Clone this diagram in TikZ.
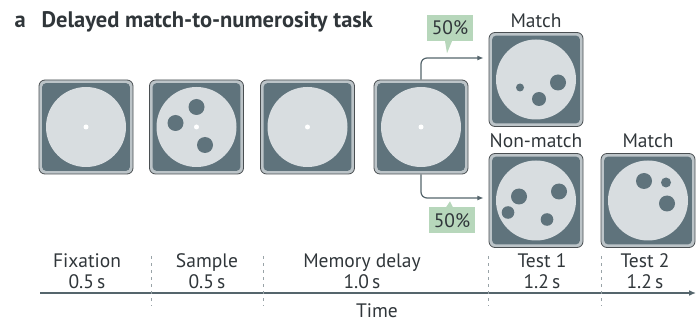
\documentclass[tikz,border=0pt]{standalone}
\usepackage{fontspec}
\setmainfont{PT Sans}
\usetikzlibrary{arrows.meta}
\definecolor{slate}{HTML}{5F737C}
\definecolor{rim}{HTML}{BCC4C8}
\definecolor{edge}{HTML}{4A4F52}
\definecolor{disc}{HTML}{D8DDE0}
\definecolor{pctgreen}{HTML}{B7D7BB}
\definecolor{ink}{HTML}{30363A}
\definecolor{axis}{HTML}{55656C}
\newcommand{\screen}[3]{%
	\node[screen] (#1) at (#2,#3) {};
	\fill[slate, rounded corners=4pt] ([shift={(3.5,3.5)}]#1.north west) rectangle ([shift={(-3.5,-3.5)}]#1.south east);
	\fill[disc] (#1.center) circle[radius=40pt];
}

\begin{document}
\begin{tikzpicture}[x=1pt, y=-1pt, every node/.style={text=ink, font=\fontsize{19.5}{22}\selectfont},
	screen/.style={draw=edge, line width=0.8pt, fill=rim, rounded corners=6pt, minimum size=94pt, inner sep=0pt},
	flow/.style={axis, line width=1.2pt, rounded corners=6pt, -{Latex[length=2.2mm, width=1.8mm]}},
	pct/.style={fill=pctgreen, minimum width=46pt, minimum height=26pt, inner sep=0pt},
	lbl/.style={anchor=base},
	>={Latex[length=2.4mm, width=2mm]}]
	\useasboundingbox (0,0) rectangle (696,323);
	\node[anchor=base west, font=\fontsize{22.5}{26}\selectfont\bfseries] (tag) at (11,28) {a};
	\node[anchor=base west, font=\fontsize{22.5}{26}\selectfont\bfseries] (title) at (38,28) {Delayed match-to-numerosity task};

	\screen{fix}{86}{127}
	\screen{smp}{196.5}{127}
	\screen{mem}{307.5}{127}
	\screen{dec}{421}{127}
	\screen{mone}{536}{79.5}
	\screen{nm}{536}{200.5}
	\screen{mtwo}{648}{200.5}
	\foreach \s in {fix,smp,mem,dec}
		\fill[white] (\s.center) circle[radius=2.5pt];
	\foreach \dx/\dy/\r in {0/-20/8, -21/-4/8, 8.5/18/8}
		\fill[slate] ([shift={(\dx,\dy)}]smp.center) circle[radius=\r pt];
	\foreach \dx/\dy/\r in {22/3/8, 3/19.5/7, -16/8/4}
		\fill[slate] ([shift={(\dx,\dy)}]mone.center) circle[radius=\r pt];
	\foreach \dx/\dy/\r in {-17/-4/8, 23/-9/8, -28/12/6.3, 11/19/6.3}
		\fill[slate] ([shift={(\dx,\dy)}]nm.center) circle[radius=\r pt];
	\foreach \dx/\dy/\r in {-4/-19.5/8, 18/-18/5, 19/3/8}
		\fill[slate] ([shift={(\dx,\dy)}]mtwo.center) circle[radius=\r pt];

	\node[lbl] (lmone) at (536,28) {Match};
	\node[lbl] (lnm) at (536,148) {Non-match};
	\node[lbl] (lmtwo) at (648,148) {Match};

	\draw[flow] (dec.north) |- ([shift={(-5,-21.5)}]mone.west);
	\draw[flow] (dec.south) |- ([shift={(-5,-2.5)}]nm.west);
	\node[pct] (pup) at (450,28) {50\%};
	\fill[pctgreen] ([xshift=-5pt]pup.south) -- ([xshift=2pt]pup.south) -- ([shift={(-3,12)}]pup.south) -- cycle;
	\node[pct] (pdn) at (452,220.5) {50\%};
	\fill[pctgreen] ([xshift=-6pt]pdn.north) -- ([xshift=1pt]pdn.north) -- ([shift={(-2,-6)}]pdn.north) -- cycle;

	\coordinate (t0) at (40,293);
	\coordinate (t1) at (696,293);
	\draw[->, axis, line width=1.4pt] (t0) -- (t1);
	\foreach \x in {151,263,488,601}
		\draw[axis!60, line width=1pt, dash pattern=on 3pt off 4pt] (\x,256) -- (\x,306);
	\foreach \x/\nm/\dur in {87/Fixation/0.5\,s, 207/Sample/0.5\,s, 362/Memory delay/1.0\,s, 542/Test 1/1.2\,s, 645/Test 2/1.2\,s} {
		\node[lbl] (n\x) at (\x,267) {\nm};
		\node[lbl] (d\x) at (\x,288) {\dur};
	}
	\node[lbl] (time) at (377,317) {Time};
\end{tikzpicture}
\end{document}
